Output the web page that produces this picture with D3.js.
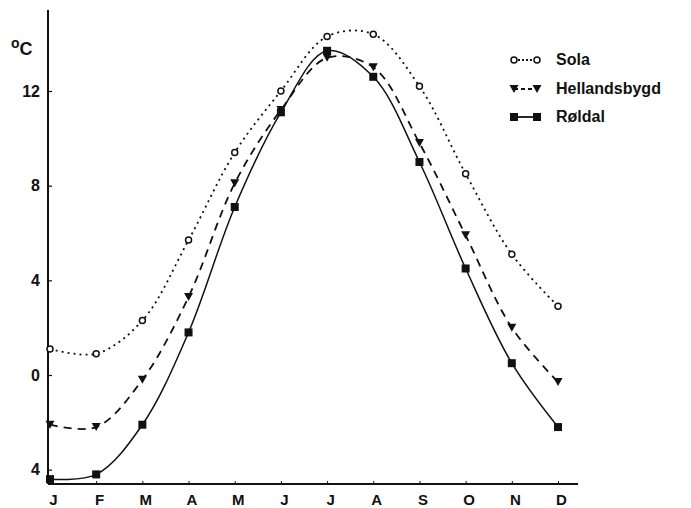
<!DOCTYPE html>
<html>
<head>
<meta charset="utf-8">
<script src="https://cdn.jsdelivr.net/npm/d3@7"></script>
<style>
  body { margin: 0; background: #fff; }
  svg text { font-family: "Liberation Sans", Arial, sans-serif; font-weight: bold; fill: #111; }
</style>
</head>
<body>
<svg id="chart" width="691" height="508"></svg>
<script>
// monthly mean temperature, degrees C
const months = ["J", "F", "M", "A", "M", "J", "J", "A", "S", "O", "N", "D"];
const sola = [1.1, 0.9, 2.3, 5.7, 9.4, 12.0, 14.3, 14.4, 12.2, 8.5, 5.1, 2.9];
const hellandsbygd = [-2.1, -2.2, -0.2, 3.3, 8.1, 11.2, 13.4, 13.0, 9.8, 5.9, 2.0, -0.3];
const roldal = [-4.4, -4.2, -2.1, 1.8, 7.1, 11.1, 13.7, 12.6, 9.0, 4.5, 0.5, -2.2];
const seriesNames = ["Sola", "Hellandsbygd", "Røldal"];
const yTicks = [-4, 0, 4, 8, 12];
const yTickLabels = ["4", "0", "4", "8", "12"];

const AXIS_X = 48, AXIS_Y = 484;

const svg = d3.select("#chart");

const x = d3.scaleLinear().domain([0, 11]).range([50, 558]);
const y = d3.scaleLinear().domain([0, 12]).range([375, 91]);

const series = [
  { name: seriesNames[0], values: sola, dash: "2,4", marker: "circle" },
  { name: seriesNames[1], values: hellandsbygd, dash: "8,6", marker: "triangle" },
  { name: seriesNames[2], values: roldal, dash: null, marker: "square" }
];

// axes
svg.append("line")
  .attr("x1", AXIS_X).attr("x2", AXIS_X)
  .attr("y1", 10).attr("y2", AXIS_Y)
  .attr("stroke", "#111").attr("stroke-width", 2);
svg.append("line")
  .attr("x1", AXIS_X).attr("x2", 578)
  .attr("y1", AXIS_Y).attr("y2", AXIS_Y)
  .attr("stroke", "#111").attr("stroke-width", 2);

const yAxis = svg.append("g")
  .attr("transform", `translate(${AXIS_X},0)`)
  .call(d3.axisLeft(y).tickValues(yTicks)
    .tickFormat((d, i) => yTickLabels[i])
    .tickSizeInner(-4).tickSizeOuter(0).tickPadding(8));
yAxis.select(".domain").remove();
yAxis.selectAll(".tick line").attr("stroke", "#111").attr("stroke-width", 1.2);
yAxis.selectAll(".tick text").attr("font-size", 16).attr("fill", "#111")
  .attr("font-family", "Liberation Sans, Arial, sans-serif").attr("font-weight", "bold");

const xAxis = svg.append("g")
  .attr("transform", `translate(0,${AXIS_Y})`)
  .call(d3.axisBottom(x).tickValues(d3.range(12))
    .tickFormat(i => months[i])
    .tickSizeInner(-3).tickSizeOuter(0).tickPadding(10));
xAxis.select(".domain").remove();
xAxis.selectAll(".tick line").attr("stroke", "#111").attr("stroke-width", 1);
xAxis.selectAll(".tick text").attr("font-size", 15).attr("fill", "#111")
  .attr("dx", 3)
  .attr("font-family", "Liberation Sans, Arial, sans-serif").attr("font-weight", "bold");

// unit label
const unit = svg.append("text").attr("x", 11).attr("y", 55).attr("font-size", 18);
unit.append("tspan").attr("font-size", 14).attr("dy", -7).text("o");
unit.append("tspan").attr("dy", 7).text("C");

// lines
const line = d3.line()
  .x((d, i) => x(i))
  .y(d => y(d))
  .curve(d3.curveCatmullRom.alpha(0.5));

series.forEach(s => {
  svg.append("path")
    .datum(s.values)
    .attr("d", line)
    .attr("fill", "none")
    .attr("stroke", "#111")
    .attr("stroke-width", s.dash ? 1.8 : 1.5)
    .attr("stroke-dasharray", s.dash);
});

function drawMarker(g, type, cx, cy) {
  if (type === "circle") {
    g.append("circle").attr("cx", cx).attr("cy", cy).attr("r", 3)
      .attr("fill", "#fff").attr("stroke", "#111").attr("stroke-width", 1.5);
  } else if (type === "triangle") {
    g.append("path")
      .attr("d", `M${cx - 4.5},${cy - 4} L${cx + 4.5},${cy - 4} L${cx},${cy + 4} Z`)
      .attr("fill", "#111");
  } else {
    g.append("rect").attr("x", cx - 4).attr("y", cy - 4)
      .attr("width", 8).attr("height", 8).attr("fill", "#111");
  }
}

const markers = svg.append("g");
series.forEach(s => {
  s.values.forEach((v, i) => drawMarker(markers, s.marker, x(i), y(v)));
});

// legend
const legend = svg.append("g");
const legendY = [60, 89, 117];
series.forEach((s, i) => {
  const ly = legendY[i];
  legend.append("line")
    .attr("x1", 514).attr("x2", 537)
    .attr("y1", ly).attr("y2", ly)
    .attr("stroke", "#111").attr("stroke-width", 1.8)
    .attr("stroke-dasharray", s.dash ? (s.marker === "circle" ? "2,2" : "4,3") : null);
  drawMarker(legend, s.marker, 514, ly);
  drawMarker(legend, s.marker, 537, ly);
  legend.append("text")
    .attr("x", 556).attr("y", ly + 5)
    .attr("font-size", 16)
    .text(s.name);
});
</script>
</body>
</html>
